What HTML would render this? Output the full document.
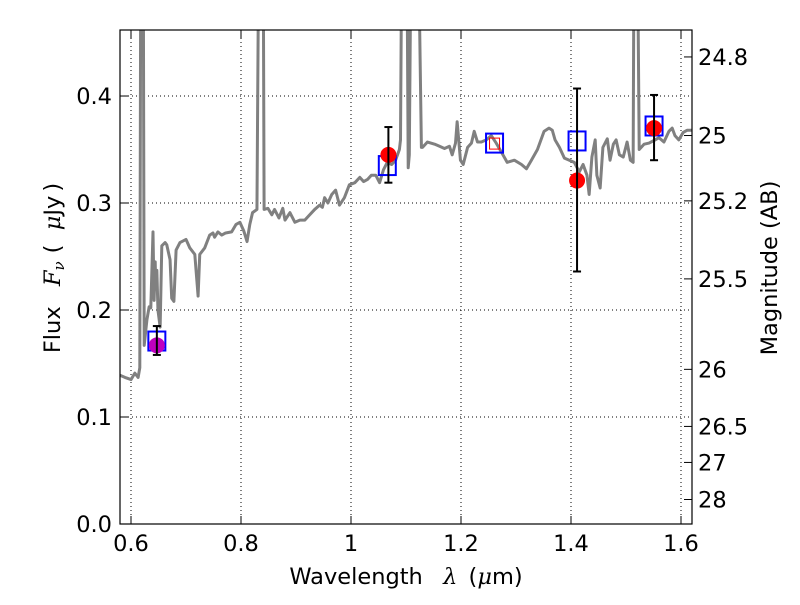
<!DOCTYPE html>
<html><head><meta charset="utf-8"><style>
body{margin:0;background:#fff;}
svg text{font-family:"DejaVu Sans","Liberation Sans",sans-serif;fill:#000;white-space:pre;}
</style></head><body>
<svg id="chart" width="800" height="600" xmlns="http://www.w3.org/2000/svg">
<rect width="800" height="600" fill="#fff"/>
<g id="grid"></g>
<g id="plot"></g>
<g id="axes"></g>
<text x="406" y="584" font-size="22.5" text-anchor="middle">Wavelength  <tspan font-family="DejaVu Serif" font-style="italic" dx="6">λ</tspan> <tspan dx="4">(</tspan><tspan font-family="DejaVu Serif" font-style="italic">μ</tspan>m)</text>
<text transform="translate(60,268) rotate(-90)" font-size="22.5" text-anchor="middle">Flux  <tspan font-family="DejaVu Serif" font-style="italic" dx="6">F<tspan font-size="15" dy="4">ν</tspan></tspan><tspan dy="-4" dx="8">(  </tspan><tspan font-family="DejaVu Serif" font-style="italic">μ</tspan>Jy<tspan dx="4">)</tspan></text>
<text transform="translate(777,268) rotate(-90)" font-size="22.5" text-anchor="middle">Magnitude (AB)</text>
</svg>
<script>
const wl=[0.580,0.589,0.600,0.607,0.613,0.616,0.618,0.622,0.624,0.629,0.633,0.636,0.640,0.642,0.644,0.645,0.647,0.649,0.653,0.656,0.662,0.665,0.671,0.674,0.678,0.682,0.689,0.700,0.707,0.716,0.722,0.725,0.734,0.743,0.749,0.752,0.758,0.765,0.772,0.783,0.791,0.798,0.805,0.811,0.816,0.821,0.829,0.833,0.840,0.842,0.849,0.856,0.861,0.869,0.876,0.880,0.889,0.898,0.907,0.916,0.925,0.934,0.943,0.948,0.952,0.958,0.965,0.972,0.979,0.988,0.997,1.007,1.016,1.023,1.030,1.037,1.045,1.052,1.059,1.066,1.074,1.081,1.088,1.090,1.093,1.101,1.104,1.106,1.110,1.121,1.128,1.130,1.139,1.152,1.161,1.170,1.179,1.184,1.190,1.193,1.199,1.204,1.212,1.219,1.224,1.230,1.237,1.246,1.255,1.264,1.273,1.284,1.297,1.310,1.319,1.328,1.339,1.351,1.360,1.366,1.371,1.379,1.388,1.397,1.406,1.415,1.422,1.429,1.433,1.438,1.444,1.447,1.453,1.458,1.466,1.471,1.477,1.482,1.488,1.495,1.502,1.508,1.513,1.515,1.520,1.524,1.533,1.542,1.553,1.560,1.569,1.578,1.584,1.589,1.596,1.604,1.611,1.620];
const flux=[0.139,0.137,0.135,0.141,0.137,0.146,0.60,0.60,0.167,0.191,0.203,0.202,0.273,0.209,0.245,0.221,0.237,0.200,0.184,0.260,0.263,0.261,0.247,0.211,0.208,0.256,0.263,0.266,0.258,0.252,0.213,0.252,0.258,0.270,0.272,0.268,0.273,0.270,0.272,0.273,0.280,0.282,0.274,0.264,0.280,0.291,0.294,0.60,0.60,0.294,0.295,0.289,0.294,0.286,0.295,0.284,0.291,0.282,0.284,0.284,0.289,0.294,0.298,0.296,0.305,0.300,0.308,0.312,0.298,0.305,0.317,0.319,0.324,0.320,0.322,0.326,0.326,0.319,0.331,0.338,0.336,0.340,0.350,0.359,0.60,0.60,0.333,0.345,0.60,0.60,0.352,0.352,0.357,0.355,0.353,0.351,0.353,0.345,0.356,0.376,0.340,0.336,0.352,0.356,0.367,0.357,0.357,0.359,0.363,0.356,0.348,0.338,0.340,0.336,0.332,0.340,0.350,0.367,0.370,0.368,0.359,0.352,0.342,0.340,0.338,0.329,0.336,0.326,0.308,0.343,0.359,0.326,0.314,0.352,0.360,0.340,0.355,0.359,0.345,0.343,0.357,0.340,0.338,0.60,0.60,0.350,0.355,0.356,0.359,0.361,0.357,0.367,0.370,0.363,0.359,0.366,0.368,0.368];
const modelWl=[0.647,1.066,1.261,1.411,1.551];
const modelFlux=[0.171,0.335,0.356,0.358,0.372];
const obsWl=[0.647,1.068,1.411,1.551];
const obsFlux=[0.167,0.345,0.321,0.370];
const obsLo=[0.158,0.319,0.236,0.340];
const obsHi=[0.185,0.371,0.407,0.401];
const obsColor=['#bf00bf','red','red','red'];
const xTicks=[0.6,0.8,1.0,1.2,1.4,1.6];
const xTickLabels=['0.6','0.8','1','1.2','1.4','1.6'];
const yTicks=[0.0,0.1,0.2,0.3,0.4];
const yTickLabels=['0.0','0.1','0.2','0.3','0.4'];
const magTicks=[24.8,25,25.2,25.5,26,26.5,27,28];
const magTickLabels=['24.8','25','25.2','25.5','26','26.5','27','28'];

const L=120,R=692,T=30,B=524,X0=0.58,X1=1.62,Y0=0,Y1=0.4617;
const sx=v=>L+(v-X0)/(X1-X0)*(R-L);
const sy=v=>B-(v-Y0)/(Y1-Y0)*(B-T);
const NS='http://www.w3.org/2000/svg';
function mk(tag,attrs,parent){const e=document.createElementNS(NS,tag);for(const k in attrs)e.setAttribute(k,attrs[k]);parent.appendChild(e);return e;}
const grid=document.getElementById('grid'),plot=document.getElementById('plot'),axes=document.getElementById('axes');
const svg=document.getElementById('chart');
const defs=mk('defs',{},svg);
const cp=mk('clipPath',{id:'clip'},defs);mk('rect',{x:L,y:T,width:R-L,height:B-T},cp);
plot.setAttribute('clip-path','url(#clip)');

xTicks.forEach((v,i)=>{
 const g=mk('line',{x1:sx(v),x2:sx(v),y1:T,y2:B,stroke:'#000','stroke-width':1,'stroke-dasharray':'1,3'},grid);
 
 mk('line',{x1:sx(v),x2:sx(v),y1:B,y2:B-8,stroke:'#000'},axes);
 mk('line',{x1:sx(v),x2:sx(v),y1:T,y2:T+8,stroke:'#000'},axes);
 const t=mk('text',{x:sx(v),y:B+27,'font-size':22.5,'text-anchor':'middle'},axes);t.textContent=xTickLabels[i];
 
});
yTicks.forEach((v,i)=>{
 const g=mk('line',{x1:L,x2:R,y1:sy(v),y2:sy(v),stroke:'#000','stroke-width':1,'stroke-dasharray':'1,3'},grid);
 
 mk('line',{x1:L,x2:L+8,y1:sy(v),y2:sy(v),stroke:'#000'},axes);
 const t=mk('text',{x:L-8,y:sy(v)+8,'font-size':22.5,'text-anchor':'end'},axes);t.textContent=yTickLabels[i];
 
});
magTicks.forEach((m,i)=>{
 const f=Math.pow(10,(23.9-m)/2.5);
 mk('line',{x1:R,x2:R-8,y1:sy(f),y2:sy(f),stroke:'#000'},axes);
 const t=mk('text',{x:R+6,y:sy(f)+8,'font-size':22.5,'text-anchor':'start'},axes);t.textContent=magTickLabels[i];
 
});
const frame=mk('rect',{x:L,y:T,width:R-L,height:B-T,fill:'none',stroke:'#000','stroke-width':1.2},axes);


const sp=mk('polyline',{points:wl.map((w,i)=>sx(w)+','+sy(flux[i])).join(' '),fill:'none',stroke:'#808080','stroke-width':3,'stroke-linejoin':'round'},plot);


modelWl.forEach((w,i)=>{
 const r=mk('rect',{x:sx(w)-8.5,y:sy(modelFlux[i])-9.5,width:17,height:19,fill:'none',stroke:'#0000ff','stroke-width':2},plot);
 
});
const rs=mk('rect',{x:sx(modelWl[2])-5,y:sy(modelFlux[2])-5,width:10,height:11,fill:'none',stroke:'red','stroke-width':1},plot);


obsWl.forEach((w,i)=>{
 const x=sx(w);
 const e=mk('g',{},plot);
 
 mk('line',{x1:x-4,x2:x+4,y1:sy(obsLo[i]),y2:sy(obsLo[i]),stroke:'#000','stroke-width':2},e);
 mk('line',{x1:x-4,x2:x+4,y1:sy(obsHi[i]),y2:sy(obsHi[i]),stroke:'#000','stroke-width':2},e);
 const c=mk('circle',{cx:x,cy:sy(obsFlux[i]),r:8,fill:obsColor[i]},plot);
 
 mk('line',{x1:x,x2:x,y1:sy(obsLo[i]),y2:sy(obsHi[i]),stroke:'#000','stroke-width':2},plot);
});
</script>
</body></html>
